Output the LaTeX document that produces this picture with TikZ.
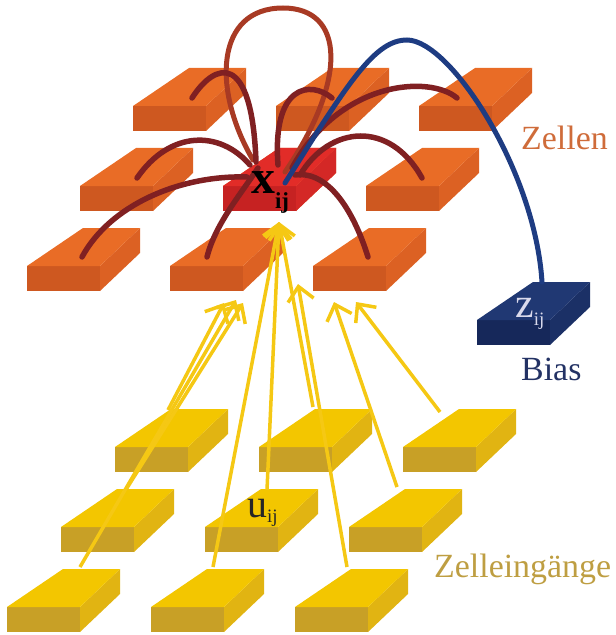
\documentclass[tikz,border=0pt]{standalone}
\usepackage{fontspec}
\setmainfont{Liberation Serif}
\usetikzlibrary{arrows.meta}

\definecolor{zelleTop}{RGB}{233,108,38}
\definecolor{zelleFront}{RGB}{206,88,32}
\definecolor{zelleSide}{RGB}{220,97,35}
\definecolor{mitteTop}{RGB}{226,44,40}
\definecolor{mitteFront}{RGB}{198,34,34}
\definecolor{mitteSide}{RGB}{212,40,38}
\definecolor{eingTop}{RGB}{243,198,0}
\definecolor{eingFront}{RGB}{200,160,38}
\definecolor{eingSide}{RGB}{225,180,18}
\definecolor{biasTop}{RGB}{32,56,115}
\definecolor{biasFront}{RGB}{22,40,90}
\definecolor{biasSide}{RGB}{27,48,102}
\definecolor{kopplung}{RGB}{128,32,34}
\definecolor{rueck}{RGB}{168,58,36}
\definecolor{biaslinie}{RGB}{30,60,130}
\definecolor{eingang}{RGB}{245,200,20}
\definecolor{zellenText}{RGB}{207,108,58}
\definecolor{biasText}{RGB}{35,50,100}
\definecolor{eingText}{RGB}{190,158,66}
\definecolor{zText}{RGB}{218,218,236}

\tikzset{
  % flat box: top face, front face, right side
  pics/slab/.style n args={3}{code={
      \fill[#2] (0,0) rectangle (73,25);
      \fill[#3] (73,0) -- (113,-38) -- (113,-13) -- (73,25) -- cycle;
      \fill[#1] (0,0) -- (73,0) -- (113,-38) -- (56,-38) -- cycle;
  }},
  koppel/.style={draw=kopplung, line width=5.5bp, line cap=round},
  schleife/.style={draw=rueck, line width=5bp, line cap=round},
  biaskante/.style={draw=biaslinie, line width=5bp, line cap=round},
  eingpfeil/.style={draw=eingang, line width=3.5bp,
    -{Straight Barb[length=14bp,width=26bp,line width=3.5bp]}},
  beschr/.style={anchor=base west, inner sep=0pt,
    font=\fontsize{34}{34}\selectfont},
}

\begin{document}
\begin{tikzpicture}[x=1bp,y=-1bp]
  \useasboundingbox (0,0) rectangle (616,635);

  % Zellen (3x3)
  \foreach \r in {2,1,0}
    \foreach \c in {0,1,2}{
      \coordinate (z-\r-\c) at (27+53*\r+143*\c, 266-80*\r);
      \pic at (z-\r-\c) {slab={zelleTop}{zelleFront}{zelleSide}};
    }
  \pic at (z-1-1) {slab={mitteTop}{mitteFront}{mitteSide}};

  % Bias
  \coordinate (b) at (477,320);
  \pic at (b) {slab={biasTop}{biasFront}{biasSide}};

  % Zelleingaenge (3x3)
  \foreach \r in {2,1,0}
    \foreach \c in {0,1,2}{
      \coordinate (e-\r-\c) at (7+54*\r+144*\c, 607-80*\r);
      \pic at (e-\r-\c) {slab={eingTop}{eingFront}{eingSide}};
    }

  % ends of the couplings on the neighbour cells
  \coordinate (n-bl) at (192,98);
  \coordinate (n-bc) at (332,98);
  \coordinate (n-br) at (457,98);
  \coordinate (n-ml) at (137,178);
  \coordinate (n-mr) at (422,178);
  \coordinate (n-fl) at (82,257);
  \coordinate (n-fc) at (207,257);
  \coordinate (n-fr) at (368,257);
  % ends on the centre cell
  \coordinate (x-bl) at (256,162);
  \coordinate (x-bc) at (278,165);
  \coordinate (x-br) at (292,168);
  \coordinate (x-ml) at (250,165);
  \coordinate (x-mr) at (300,175);
  \coordinate (x-fl) at (247,177);
  \coordinate (x-fc) at (258,168);
  \coordinate (x-fr) at (295,175);
  \coordinate (x-in) at (253,160);
  \coordinate (x-out) at (285,172);
  \coordinate (x-b) at (285,183);
  \coordinate (b-top) at (542,282);

  % self feedback
  \draw[schleife] (x-in) .. controls (212,90) and (215,8) .. (283,8)
    .. controls (345,8) and (348,80) .. (x-out);

  % couplings to the neighbours
  \draw[koppel] (x-bl) .. controls (252,50) and (215,62) .. (n-bl);
  \draw[koppel] (x-bc) .. controls (272,85) and (310,80) .. (n-bc);
  \draw[koppel] (x-br) .. controls (340,80) and (430,75) .. (n-br);
  \draw[koppel] (x-ml) .. controls (220,130) and (170,130) .. (n-ml);
  \draw[koppel] (x-mr) .. controls (330,125) and (390,120) .. (n-mr);
  \draw[koppel] (x-fl) .. controls (180,175) and (110,205) .. (n-fl);
  \draw[koppel] (x-fc) .. controls (240,195) and (215,225) .. (n-fc);
  \draw[koppel] (x-fr) .. controls (330,170) and (355,215) .. (n-fr);

  % bias line
  \draw[biaskante] (x-b) .. controls (349,81) and (375,40) .. (407,40)
    .. controls (450,40) and (535,170) .. (b-top);

  % inputs
  \coordinate (s-fl) at (80,567);
  \coordinate (s-ml) at (127,488);
  \coordinate (s-bl) at (168,410);
  \coordinate (s-fc) at (213,567);
  \coordinate (s-mc) at (267,490);
  \coordinate (s-bc) at (313,407);
  \coordinate (s-fr) at (347,567);
  \coordinate (s-mr) at (397,487);
  \coordinate (s-br) at (440,412);
  \coordinate (t-1) at (224,303);
  \coordinate (t-2) at (236,300);
  \coordinate (t-3) at (243,303);
  \coordinate (t-m) at (279,222);
  \coordinate (t-4) at (298,284);
  \coordinate (t-5) at (334,302);
  \coordinate (t-6) at (356,302);

  \draw[eingpfeil] (s-bl) -- (t-1);
  \draw[eingpfeil] (s-fl) -- (t-2);
  \draw[eingpfeil] (s-ml) -- (t-3);
  \draw[eingpfeil] (s-fc) -- (t-m);
  \draw[eingpfeil] (s-mc) -- (t-m);
  \draw[eingpfeil] (s-bc) -- (t-m);
  \draw[eingpfeil] (s-fr) -- (t-4);
  \draw[eingpfeil] (s-mr) -- (t-5);
  \draw[eingpfeil] (s-br) -- (t-6);

  % labels
  \node[anchor=base west, inner sep=0pt] (xlab) at (251,193)
    {\fontsize{48}{48}\selectfont\bfseries x\raisebox{-15bp}{\fontsize{23}{23}\selectfont ij}};
  \node[anchor=base west, inner sep=0pt, text=black!85] (ulab) at (247,517)
    {\fontsize{40}{40}\selectfont u\raisebox{-5bp}{\fontsize{19}{19}\selectfont ij}};
  \node[anchor=base west, inner sep=0pt, text=zText] (zlab) at (515,317)
    {\fontsize{42}{42}\selectfont z\raisebox{-8bp}{\fontsize{19}{19}\selectfont ij}};

  \node[beschr, text=zellenText] (zellen) at (521,150) {Zellen};
  \node[beschr, text=biasText] (bias) at (521,380) {Bias};
  \node[beschr, text=eingText] (eing) at (434,577) {Zelleingänge};
\end{tikzpicture}
\end{document}
